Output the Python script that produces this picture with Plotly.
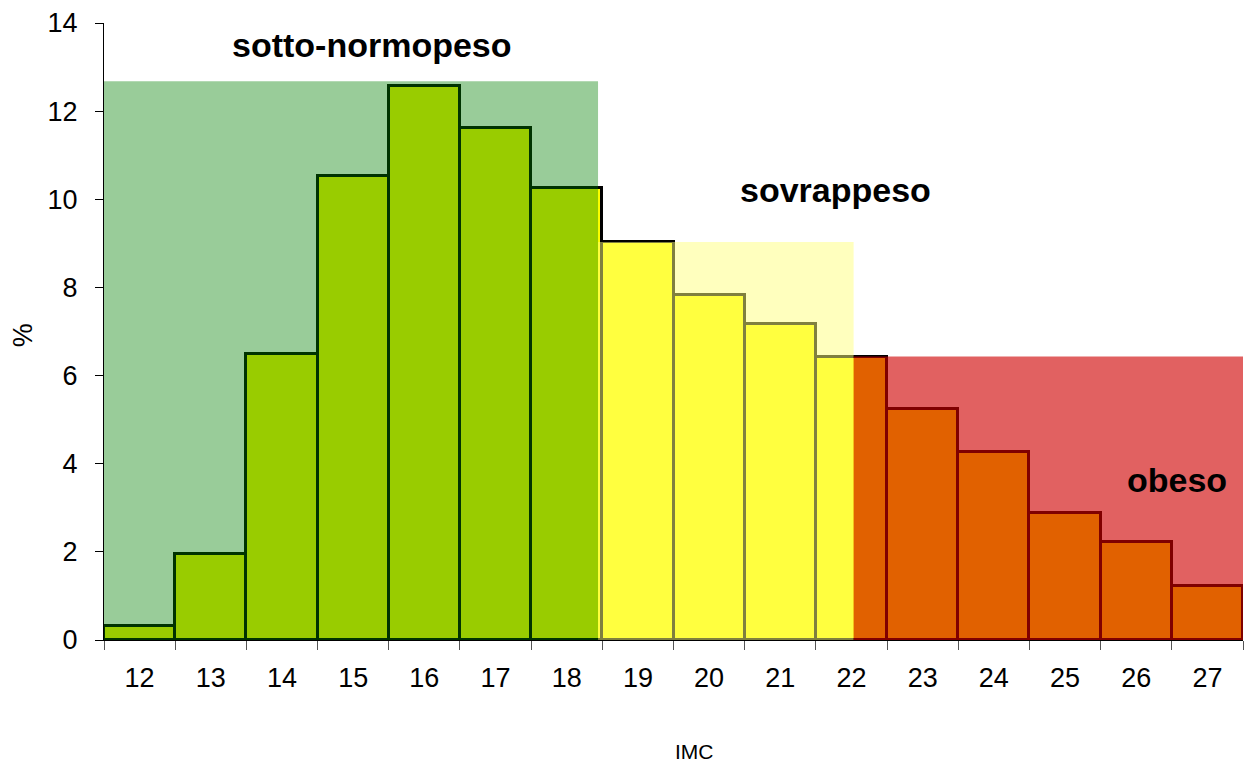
import plotly.graph_objects as go

# IMC classes and share of children (%)
imc = [12, 13, 14, 15, 16, 17, 18, 19, 20, 21, 22, 23, 24, 25, 26, 27]
percent = [0.32, 1.95, 6.48, 10.53, 12.56, 11.62, 10.26, 9.02, 7.82, 7.16, 6.42,
           5.24, 4.27, 2.89, 2.23, 1.23]

# weight classes: label, first IMC, last IMC
classes = ['sotto-normopeso', 'sovrappeso', 'obeso']
class_first = [12, 19, 22]
class_last = [18, 22, 27]

# overlay look for each class (drawn over the bars, like the excel original)
overlay_color = ['rgba(0,128,0,0.40)', 'rgba(255,255,125,0.50)', 'rgba(206,0,0,0.62)']
overlay_x = [(-0.5, 6.44), (6.44, 10.03), (10.03, 15.5)]
label_pos = [(3.26, 13.5), (9.78, 10.21), (14.57, 3.63)]

fig = go.Figure()
fig.add_trace(go.Bar(
    x=[str(v) for v in imc], y=percent,
    marker=dict(color='#FFFF00', line=dict(color='black', width=3)),
    width=1.0,
))

for i, name in enumerate(classes):
    vals = [p for v, p in zip(imc, percent) if class_first[i] <= v <= class_last[i]]
    top = max(vals) + (0.12 if i == 0 else 0.01)
    x0, x1 = overlay_x[i]
    fig.add_shape(type='rect', xref='x', yref='y', x0=x0, x1=x1, y0=0, y1=top,
                  fillcolor=overlay_color[i], line=dict(width=0), layer='above')
    fig.add_annotation(x=label_pos[i][0], y=label_pos[i][1], text='<b>' + name + '</b>',
                       showarrow=False, font=dict(size=34, color='black'))

# axis titles
fig.add_annotation(xref='paper', yref='paper', x=0.518, y=-0.18, text='IMC',
                   xanchor='center', yanchor='middle', showarrow=False, font=dict(size=21))
fig.add_annotation(xref='paper', yref='paper', x=-0.071, y=0.494, text='%',
                   xanchor='center', yanchor='middle', textangle=-90, showarrow=False,
                   font=dict(size=27))

fig.update_layout(
    width=1247, height=764,
    margin=dict(l=104, r=4, t=23, b=124),
    plot_bgcolor='white', paper_bgcolor='white',
    font=dict(family='Arial, Liberation Sans, sans-serif', color='black', size=27),
    showlegend=False, bargap=0,
)
fig.update_xaxes(type='category', range=[-0.5, 15.5], tickson='boundaries',
                 ticks='outside', ticklen=9, tickcolor='#555555', showline=True,
                 linecolor='black', linewidth=1, showgrid=False, automargin=False,
                 ticklabelstandoff=14)
fig.update_yaxes(range=[0, 14], dtick=2, ticks='outside', ticklen=8, tickcolor='black',
                 showline=True, linecolor='black', linewidth=1, showgrid=False,
                 zeroline=False, automargin=False, ticklabelstandoff=12)

fig.write_html("out.html", config={'displayModeBar': False},
               post_script="document.body.style.margin='0';")
